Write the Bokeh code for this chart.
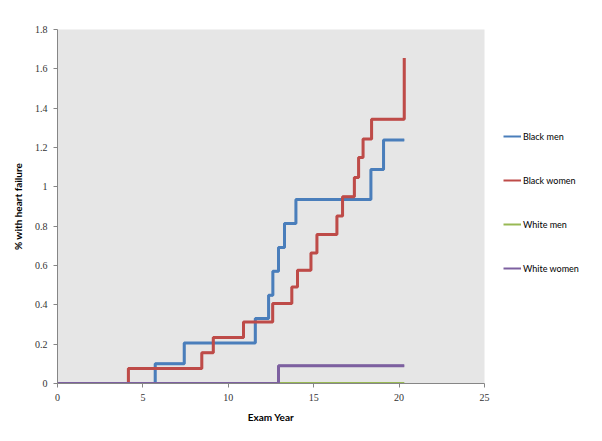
from bokeh.plotting import figure
from bokeh.models import Range1d, Legend, LegendItem, FixedTicker
from bokeh.embed import file_html
from bokeh.resources import INLINE

# ---- data ----
black_men_x = [0, 5.72, 7.42, 11.58, 12.36, 12.61, 12.94, 13.29, 13.96, 18.35, 19.09, 20.3]
black_men_y = [0, 0.10, 0.206, 0.33, 0.449, 0.571, 0.691, 0.813, 0.935, 1.088, 1.238, 1.238]

black_women_x = [0, 4.15, 8.45, 9.12, 10.89, 12.6, 13.72, 14.05, 14.84, 15.19, 16.36, 16.69,
                 17.38, 17.63, 17.89, 18.39, 20.3]
black_women_y = [0, 0.076, 0.156, 0.234, 0.313, 0.407, 0.491, 0.576, 0.664, 0.757, 0.852, 0.949,
                 1.047, 1.149, 1.243, 1.344, 1.655]

white_men_x = [0, 20.3]
white_men_y = [0, 0]

white_women_x = [0, 12.94, 20.3]
white_women_y = [0, 0.09, 0.09]

x_ticks = [0, 5, 10, 15, 20, 25]
y_ticks = [0, 0.2, 0.4, 0.6, 0.8, 1.0, 1.2, 1.4, 1.6, 1.8]
y_tick_labels = ["0", "0.2", "0.4", "0.6", "0.8", "1", "1.2", "1.4", "1.6", "1.8"]

series = [
    ("Black men", black_men_x, black_men_y, "#4A7EBB"),
    ("Black women", black_women_x, black_women_y, "#BE4B48"),
    ("White men", white_men_x, white_men_y, "#98B954"),
    ("White women", white_women_x, white_women_y, "#7D60A0"),
]

p = figure(frame_width=427, frame_height=354, output_backend="svg", toolbar_location=None,
           x_range=Range1d(0, 25), y_range=Range1d(0, 1.8),
           min_border_left=57, min_border_right=0, min_border_top=29, min_border_bottom=50)
p.background_fill_color = "#E6E6E6"
p.border_fill_color = "white"
p.outline_line_color = None
p.xgrid.visible = False
p.ygrid.visible = False

tick_font = "Liberation Serif"
for ax in (p.xaxis[0], p.yaxis[0]):
    ax.axis_line_color = "#868686"
    ax.major_tick_line_color = "#868686"
    ax.major_tick_out = 4
    ax.major_tick_in = 0
    ax.minor_tick_line_color = None
    ax.major_label_text_font = tick_font
    ax.major_label_text_font_size = "10px"
    ax.major_label_text_color = "#333333"
    ax.axis_label_text_font = "Lato"
    ax.axis_label_text_font_style = "bold"
    ax.axis_label_text_font_size = "10px"
    ax.axis_label_text_color = "#000000"

p.xaxis.ticker = FixedTicker(ticks=x_ticks)
p.yaxis.ticker = FixedTicker(ticks=y_ticks)
p.yaxis.major_label_overrides = {t: l for t, l in zip(y_ticks, y_tick_labels)}
p.xaxis.axis_label = "Exam Year"
p.yaxis.axis_label = "% with heart failure"
p.xaxis.major_label_standoff = 6
p.yaxis.major_label_standoff = 6
p.xaxis.axis_label_standoff = 7
p.yaxis.axis_label_standoff = 8

items = []
for name, xs, ys, col in series:
    # thin copy (fully covered by the thick line) used for the legend swatch
    lr = p.step(xs, ys, mode="after", line_color=col, line_width=2)
    p.step(xs, ys, mode="after", line_color=col, line_width=3)
    items.append(LegendItem(label=name, renderers=[lr]))

legend = Legend(items=items, location="top_left")
legend.background_fill_alpha = 0
legend.border_line_color = None
legend.padding = 0
legend.margin = 0
legend.spacing = 24
legend.glyph_width = 18
legend.glyph_height = 20
legend.label_height = 20
legend.label_standoff = 2
legend.label_text_font = "Lato"
legend.label_text_font_size = "9px"
legend.label_text_color = "#000000"
p.add_layout(legend, "right")
legend.location = (19, 105)
p.min_border_right = 109

open("out.html", "w").write(file_html(p, INLINE))
